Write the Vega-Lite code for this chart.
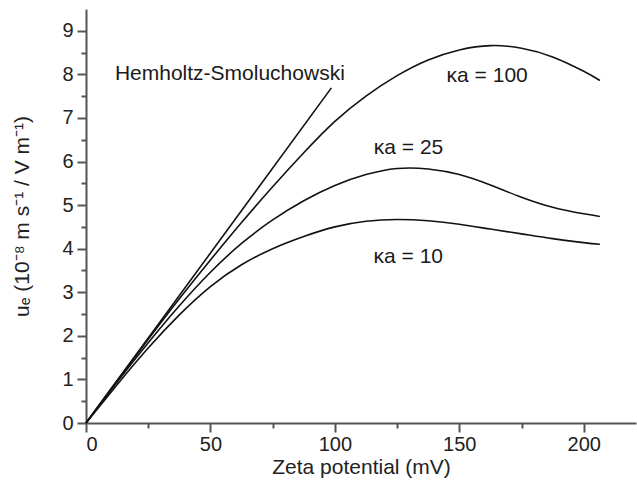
{
  "$schema": "https://vega.github.io/schema/vega-lite/v6.json",
  "width": 550,
  "height": 414,
  "autosize": {"type": "none"},
  "padding": {"left": 86, "top": 9, "right": 1, "bottom": 65},
  "background": "white",
  "config": {
    "view": {"stroke": null},
    "font": "Liberation Sans",
    "axis": {
      "grid": false,
      "domainColor": "#555555",
      "domainWidth": 2,
      "tickColor": "#555555",
      "tickWidth": 2,
      "labelFont": "Liberation Sans",
      "labelFontSize": 20,
      "labelColor": "#222222",
      "titleFont": "Liberation Sans",
      "titleFontSize": 21,
      "titleFontWeight": "normal",
      "titleColor": "#222222"
    }
  },
  "datasets": {
    "curves": [
      {"series": "HS", "zeta": 0, "u": 0},
      {"series": "HS", "zeta": 98.6, "u": 7.69},

      {"series": "ka100", "zeta": 0, "u": 0},
      {"series": "ka100", "zeta": 12.5, "u": 0.97},
      {"series": "ka100", "zeta": 25, "u": 1.92},
      {"series": "ka100", "zeta": 37.5, "u": 2.85},
      {"series": "ka100", "zeta": 50, "u": 3.74},
      {"series": "ka100", "zeta": 62.5, "u": 4.6},
      {"series": "ka100", "zeta": 75, "u": 5.42},
      {"series": "ka100", "zeta": 87.5, "u": 6.2},
      {"series": "ka100", "zeta": 100, "u": 6.92},
      {"series": "ka100", "zeta": 112.5, "u": 7.5},
      {"series": "ka100", "zeta": 125, "u": 7.97},
      {"series": "ka100", "zeta": 137.5, "u": 8.33},
      {"series": "ka100", "zeta": 150, "u": 8.56},
      {"series": "ka100", "zeta": 162.5, "u": 8.66},
      {"series": "ka100", "zeta": 175, "u": 8.6},
      {"series": "ka100", "zeta": 187.5, "u": 8.4},
      {"series": "ka100", "zeta": 200, "u": 8.07},
      {"series": "ka100", "zeta": 206.5, "u": 7.86},

      {"series": "ka25", "zeta": 0, "u": 0},
      {"series": "ka25", "zeta": 12.5, "u": 0.94},
      {"series": "ka25", "zeta": 25, "u": 1.84},
      {"series": "ka25", "zeta": 37.5, "u": 2.69},
      {"series": "ka25", "zeta": 50, "u": 3.46},
      {"series": "ka25", "zeta": 62.5, "u": 4.12},
      {"series": "ka25", "zeta": 75, "u": 4.66},
      {"series": "ka25", "zeta": 87.5, "u": 5.1},
      {"series": "ka25", "zeta": 100, "u": 5.45},
      {"series": "ka25", "zeta": 112.5, "u": 5.7},
      {"series": "ka25", "zeta": 125, "u": 5.84},
      {"series": "ka25", "zeta": 137.5, "u": 5.83},
      {"series": "ka25", "zeta": 150, "u": 5.7},
      {"series": "ka25", "zeta": 162.5, "u": 5.46},
      {"series": "ka25", "zeta": 175, "u": 5.18},
      {"series": "ka25", "zeta": 187.5, "u": 4.95},
      {"series": "ka25", "zeta": 200, "u": 4.8},
      {"series": "ka25", "zeta": 206.5, "u": 4.74},

      {"series": "ka10", "zeta": 0, "u": 0},
      {"series": "ka10", "zeta": 12.5, "u": 0.88},
      {"series": "ka10", "zeta": 25, "u": 1.72},
      {"series": "ka10", "zeta": 37.5, "u": 2.48},
      {"series": "ka10", "zeta": 50, "u": 3.13},
      {"series": "ka10", "zeta": 62.5, "u": 3.63},
      {"series": "ka10", "zeta": 75, "u": 4.0},
      {"series": "ka10", "zeta": 87.5, "u": 4.28},
      {"series": "ka10", "zeta": 100, "u": 4.5},
      {"series": "ka10", "zeta": 112.5, "u": 4.63},
      {"series": "ka10", "zeta": 125, "u": 4.67},
      {"series": "ka10", "zeta": 137.5, "u": 4.64},
      {"series": "ka10", "zeta": 150, "u": 4.56},
      {"series": "ka10", "zeta": 162.5, "u": 4.45},
      {"series": "ka10", "zeta": 175, "u": 4.34},
      {"series": "ka10", "zeta": 187.5, "u": 4.23},
      {"series": "ka10", "zeta": 200, "u": 4.14},
      {"series": "ka10", "zeta": 206.5, "u": 4.1}
    ],
    "labels": [
      {"zeta": 57.8, "u": 8.0, "text": "Hemholtz-Smoluchowski"},
      {"zeta": 161.2, "u": 7.97, "text": "κa = 100"},
      {"zeta": 129.6, "u": 6.32, "text": "κa = 25"},
      {"zeta": 129.5, "u": 3.82, "text": "κa = 10"}
    ],
    "minor": [
      {"zeta": 25, "u": 0.5}
    ]
  },
  "layer": [
    {
      "data": {"name": "curves"},
      "mark": {"type": "line", "interpolate": "natural", "color": "#111111", "strokeWidth": 1.6},
      "encoding": {
        "x": {
          "field": "zeta", "type": "quantitative",
          "scale": {"domain": [0, 221], "nice": false, "zero": false},
          "axis": {
            "orient": "bottom",
            "values": [0, 50, 100, 150, 200],
            "tickSize": 9,
            "labelPadding": 2,
            "title": "Zeta potential (mV)",
            "titleBaseline": "middle",
            "titleY": 44
          }
        },
        "y": {
          "field": "u", "type": "quantitative",
          "scale": {"domain": [0, 9.5], "nice": false, "zero": false},
          "axis": {
            "orient": "left",
            "values": [0, 1, 2, 3, 4, 5, 6, 7, 8, 9],
            "tickSize": 9,
            "labelPadding": 4,
            "title": "uₑ (10⁻⁸ m s⁻¹ / V m⁻¹)",
            "titleBaseline": "middle",
            "titleX": -64,
            "titleY": 207
          }
        },
        "detail": {"field": "series"}
      }
    },
    {
      "data": {"name": "minor"},
      "mark": {"type": "point", "opacity": 0},
      "encoding": {
        "x": {
          "field": "zeta", "type": "quantitative",
          "scale": {"domain": [0, 221], "nice": false, "zero": false},
          "axis": {
            "orient": "bottom",
            "values": [25, 75, 125, 175],
            "tickSize": 5,
            "labels": false,
            "domain": false,
            "title": null
          }
        },
        "y": {
          "field": "u", "type": "quantitative",
          "scale": {"domain": [0, 9.5], "nice": false, "zero": false},
          "axis": {
            "orient": "left",
            "values": [0.5, 1.5, 2.5, 3.5, 4.5, 5.5, 6.5, 7.5, 8.5],
            "tickSize": 5,
            "labels": false,
            "domain": false,
            "title": null
          }
        }
      }
    },
    {
      "data": {"name": "labels"},
      "mark": {"type": "text", "font": "Liberation Sans", "fontSize": 21, "color": "#1a1a1a", "baseline": "middle", "align": "center"},
      "encoding": {
        "x": {"field": "zeta", "type": "quantitative", "scale": {"domain": [0, 221], "nice": false, "zero": false}, "axis": null},
        "y": {"field": "u", "type": "quantitative", "scale": {"domain": [0, 9.5], "nice": false, "zero": false}, "axis": null},
        "text": {"field": "text"}
      }
    }
  ],
  "resolve": {"axis": {"x": "independent", "y": "independent"}}
}
